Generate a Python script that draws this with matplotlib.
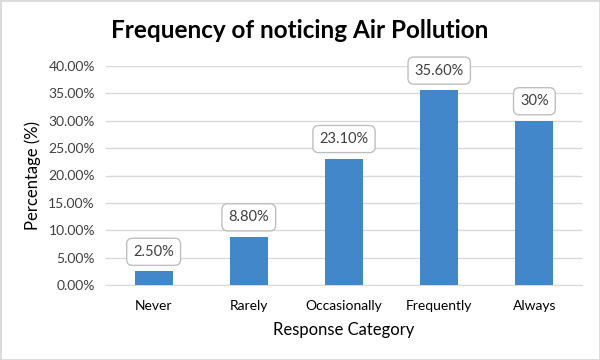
import matplotlib.pyplot as plt
from matplotlib.ticker import FuncFormatter

# Les donnees du graphique
categories = ['Never', 'Rarely', 'Occasionally', 'Frequently', 'Always']
valeurs = [2.5, 8.8, 23.1, 35.6, 30.0]
etiquettes = ['2.50%', '8.80%', '23.10%', '35.60%', '30%']
yticks = [0, 5, 10, 15, 20, 25, 30, 35, 40]

plt.rcParams['font.family'] = ['Lato', 'DejaVu Sans']

fig = plt.figure(figsize=(6, 3.6), dpi=100)
ax = fig.add_axes([106/600, 1-285/360, (582-106)/600, (285-66)/360])

x = range(len(categories))
ax.bar(x, valeurs, width=0.4, color='#4287c9', zorder=3)

for xi, v, lab in zip(x, valeurs, etiquettes):
    ax.annotate(lab, (xi, v), xytext=(0, 9), textcoords='offset points',
                ha='center', va='bottom', fontsize=10.5, color='#404040',
                bbox=dict(boxstyle='round,pad=0.45,rounding_size=0.4',
                          fc='white', ec='#bfbfbf', lw=1))

# La cosmetique
ax.set_xlim(-0.5, 4.5)
ax.set_ylim(0, 40)
ax.set_yticks(yticks)
ax.yaxis.set_major_formatter(FuncFormatter(lambda v, p: '{:.2f}%'.format(v)))
ax.set_xticks(list(x))
ax.set_xticklabels(categories)
ax.grid(axis='y', color='#d9d9d9', lw=1, zorder=0)
for s in ['top', 'right', 'left']:
    ax.spines[s].set_visible(False)
ax.spines['bottom'].set_color('#d9d9d9')
ax.tick_params(length=0, labelsize=10, colors='#404040', pad=8)
ax.tick_params(axis='x', colors='black', pad=11)
ax.set_xlabel('Response Category', fontsize=12, labelpad=7)
ax.set_ylabel('Percentage (%)', fontsize=12, labelpad=5)

fig.text(0.5, 0.915, 'Frequency of noticing Air Pollution', ha='center',
         va='center', fontsize=17.5, fontweight='bold')

fig.patches.append(plt.Rectangle((0, 0), 1, 1, transform=fig.transFigure,
                                 fill=False, ec='#d9d9d9', lw=2))

plt.savefig('out.png', dpi=100)
